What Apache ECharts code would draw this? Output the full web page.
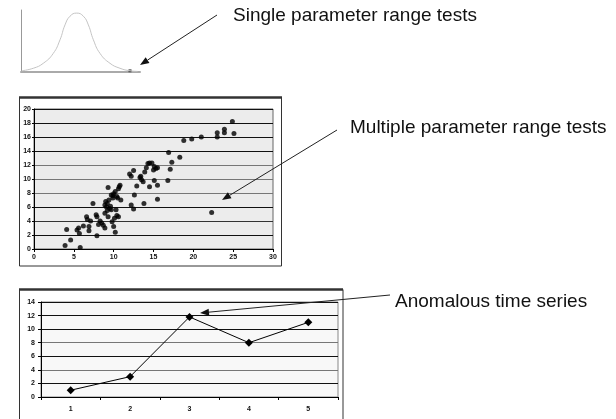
<!DOCTYPE html>
<html>
<head>
<meta charset="utf-8">
<script src="https://cdn.jsdelivr.net/npm/echarts@6/dist/echarts.min.js"></script>
<style>
html,body{margin:0;padding:0;background:#fff;}
#c{width:616px;height:419px;}
</style>
</head>
<body>
<div id="c"></div>
<script>
// ---- Data ----
// Bell curve (single parameter)
const bellX = [0.06, 1.03, 1.87, 2.71, 3.28, 3.70, 4.12, 4.68, 5.24, 5.66, 6.08, 6.64, 7.48, 8.32, 9.16, 9.8];
const bellY = [0.02, 0.06, 0.14, 0.30, 0.52, 0.76, 0.90, 0.95, 0.90, 0.76, 0.52, 0.30, 0.14, 0.06, 0.02, 0.01];
const bellOutlier = [9.16, 0.02];

// Scatter (multiple parameter)
const scatterX = [3.9,4.1,4.6,5.4,5.6,5.7,5.8,6.2,6.6,6.7,6.9,6.9,7.1,7.4,7.8,7.9,7.9,8.1,8.3,8.5,8.7,8.9,8.9,8.9,9.0,9.1,9.2,9.2,9.3,9.3,9.4,9.5,9.6,9.7,9.7,9.8,9.9,9.9,10.0,10.0,10.1,10.2,10.2,10.3,10.4,10.4,10.5,10.6,10.6,10.7,10.8,10.9,12.0,12.2,12.2,12.5,12.5,12.6,12.9,13.3,13.4,13.5,13.7,13.8,13.9,14.1,14.3,14.5,14.5,14.8,15.0,15.1,15.1,15.3,15.5,15.5,15.5,16.8,16.9,17.1,17.3,18.3,18.8,19.8,21.0,22.3,23.0,23.0,23.9,23.9,24.9,25.1];
const scatterY = [0.5,2.8,1.3,2.7,3.0,2.2,0.2,3.3,4.6,4.2,3.2,2.6,4.0,6.5,4.9,4.6,1.9,3.5,4.0,3.7,3.4,3.0,5.1,6.3,6.8,6.0,5.5,6.5,8.8,4.6,7.0,5.8,6.1,7.7,5.6,3.9,7.3,7.6,7.9,3.2,4.4,2.4,8.2,5.6,7.5,4.8,7.3,8.6,4.6,8.9,9.1,7.0,10.7,10.4,6.3,5.7,11.2,7.7,9.0,10.2,10.4,9.9,9.6,6.5,11.0,11.6,12.2,8.9,12.3,12.3,11.3,9.8,11.8,11.5,9.1,7.1,11.6,9.8,13.8,11.4,12.4,13.1,15.5,15.7,16.0,5.2,16.6,16.0,17.1,16.6,18.2,16.5];

// Time series
const lineCats = ['1', '2', '3', '4', '5'];
const lineVals = [1, 3, 11.8, 8, 11];

// Annotation texts
const labelSingle = 'Single parameter range tests';
const labelMultiple = 'Multiple parameter range tests';
const labelAnomalous = 'Anomalous time series';

// ---- Chart ----
const chart = echarts.init(document.getElementById('c'), null, {renderer: 'canvas'});
const FONT = '"Liberation Sans", Arial, sans-serif';
const tickLabel = {fontSize: 7, fontWeight: 'bold', color: '#111', fontFamily: FONT};

function arrow(x1, y1, x2, y2) {
  const a = Math.atan2(y2 - y1, x2 - x1);
  const len = 9, w = 3.5;
  const bx = x2 - len * Math.cos(a), by = y2 - len * Math.sin(a);
  const px = -Math.sin(a) * w, py = Math.cos(a) * w;
  return [
    {type: 'line', shape: {x1: x1, y1: y1, x2: bx, y2: by}, style: {stroke: '#222', lineWidth: 1}, z: 10},
    {type: 'polygon', shape: {points: [[x2, y2], [bx + px, by + py], [bx - px, by - py]]}, style: {fill: '#111'}, z: 10}
  ];
}

const option = {
  backgroundColor: '#fff',
  animation: false,
  grid: [
    {left: 21, top: 10, width: 119, height: 62, show: false},
    {left: 34, top: 109, width: 239, height: 140, show: true, backgroundColor: '#ececec', borderColor: '#666', borderWidth: 1},
    {left: 41, top: 302, width: 297, height: 95, show: true, backgroundColor: '#f8f8f8', borderColor: '#888', borderWidth: 1}
  ],
  xAxis: [
    {gridIndex: 0, type: 'value', min: 0, max: 10, axisLine: {show: true, onZero: false, lineStyle: {color: '#aaa', width: 2}}, axisTick: {show: false}, axisLabel: {show: false}, splitLine: {show: false}},
    {gridIndex: 1, type: 'value', min: 0, max: 30, interval: 5, axisLine: {show: true, onZero: false, lineStyle: {color: '#000', width: 1}}, axisTick: {show: true, length: 3, lineStyle: {color: '#000'}}, axisLabel: Object.assign({margin: 5}, tickLabel), splitLine: {show: false}},
    {gridIndex: 2, type: 'category', data: lineCats, boundaryGap: true, axisLine: {show: true, lineStyle: {color: '#000', width: 1}}, axisTick: {show: true, length: 3, alignWithLabel: false, lineStyle: {color: '#000'}}, axisLabel: Object.assign({margin: 9}, tickLabel), splitLine: {show: false}}
  ],
  yAxis: [
    {gridIndex: 0, type: 'value', min: 0, max: 1, axisLine: {show: true, lineStyle: {color: '#999', width: 1}}, axisTick: {show: false}, axisLabel: {show: false}, splitLine: {show: false}},
    {gridIndex: 1, type: 'value', min: 0, max: 20, interval: 2, axisLine: {show: true, lineStyle: {color: '#000', width: 1}}, axisTick: {show: true, length: 2, lineStyle: {color: '#000'}}, axisLabel: Object.assign({margin: 3}, tickLabel),
      splitLine: {show: true, lineStyle: {width: 1, color: ['#000', '#111', '#333', '#111', '#777', '#777', '#777', '#111', '#111', '#111', '#111']}}},
    {gridIndex: 2, type: 'value', min: 0, max: 14, interval: 2, axisLine: {show: true, lineStyle: {color: '#000', width: 1}}, axisTick: {show: true, length: 3, lineStyle: {color: '#000'}}, axisLabel: Object.assign({margin: 6}, tickLabel),
      splitLine: {show: true, lineStyle: {width: 1, color: ['#000', '#111', '#777', '#111', '#777', '#111', '#111', '#111']}}}
  ],
  series: [
    {type: 'line', xAxisIndex: 0, yAxisIndex: 0, smooth: true, showSymbol: false, data: bellX.map((x, i) => [x, bellY[i]]), lineStyle: {color: '#c4c4c4', width: 1}, silent: true},
    {type: 'scatter', xAxisIndex: 0, yAxisIndex: 0, symbol: 'rect', symbolSize: 3, data: [bellOutlier], itemStyle: {color: '#333'}},
    {type: 'scatter', xAxisIndex: 1, yAxisIndex: 1, symbol: 'circle', symbolSize: 5, data: scatterX.map((x, i) => [x, scatterY[i]]), itemStyle: {color: '#000'}},
    {type: 'line', xAxisIndex: 2, yAxisIndex: 2, data: lineVals, symbol: 'diamond', symbolSize: 8, lineStyle: {color: '#000', width: 1}, itemStyle: {color: '#000'}}
  ],
  graphic: [].concat(
    [
      {type: 'rect', shape: {x: 19.5, y: 97.5, width: 262, height: 168.5}, style: {fill: 'none', stroke: '#333', lineWidth: 1}, z: -5},
      {type: 'line', shape: {x1: 19, y1: 97.5, x2: 282, y2: 97.5}, style: {stroke: '#333', lineWidth: 2.5}, z: 1},
      {type: 'rect', shape: {x: 19.5, y: 289.5, width: 323.5, height: 140}, style: {fill: 'none', stroke: '#333', lineWidth: 1}, z: -5},
      {type: 'line', shape: {x1: 19, y1: 289.5, x2: 343, y2: 289.5}, style: {stroke: '#333', lineWidth: 2.5}, z: 1},
      {type: 'text', x: 233, y: 16, style: {text: labelSingle, font: '19px ' + FONT, fill: '#111', textVerticalAlign: 'middle', verticalAlign: 'middle'}},
      {type: 'text', x: 350, y: 128, style: {text: labelMultiple, font: '19px ' + FONT, fill: '#111', textVerticalAlign: 'middle', verticalAlign: 'middle'}},
      {type: 'text', x: 395, y: 302, style: {text: labelAnomalous, font: '19px ' + FONT, fill: '#111', textVerticalAlign: 'middle', verticalAlign: 'middle'}}
    ],
    arrow(217, 15, 140, 65),
    arrow(337, 130, 222, 200),
    arrow(390, 295, 200, 313)
  )
};
chart.setOption(option);
</script>
</body>
</html>
